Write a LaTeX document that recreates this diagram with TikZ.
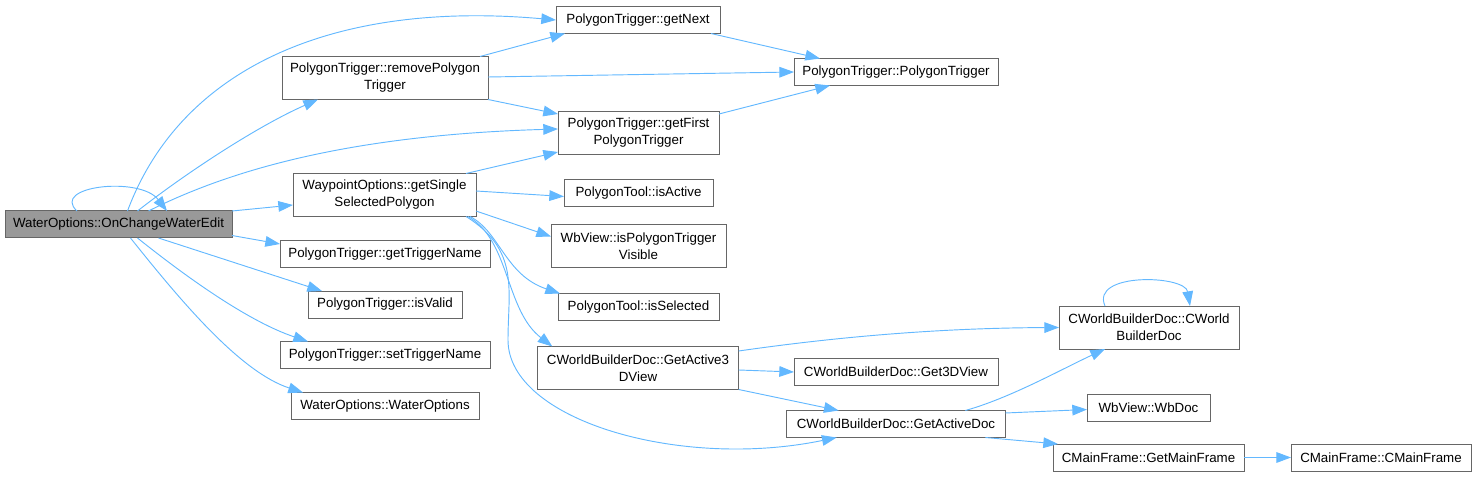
\documentclass[tikz,border=0pt]{standalone}
\usepackage{fontspec}
\setmainfont{Liberation Sans}
\usetikzlibrary{arrows.meta,calc}

\begin{document}
\begin{tikzpicture}[
    x=0.75pt, y=-0.75pt,
    >={Triangle[length=11pt,width=8pt]},
    font=\fontsize{10pt}{12.75pt}\selectfont,
    fn/.style={draw=black!60, line width=0.75pt, fill=white, outer sep=0pt, inner xsep=2pt, minimum height=20.25pt, align=center},
    fntwo/.style={fn, minimum height=32.25pt},
    rootfn/.style={fn, fill=black!40},
    call/.style={->, draw=edgeblue, line width=0.7pt}
]
    \definecolor{edgeblue}{HTML}{63B8FF}
    \useasboundingbox (0,0) rectangle (1477,477);

    % caller column
    \node[rootfn, minimum width=170.25pt] (root) at (118.5,224.5) {WaterOptions::OnChangeWaterEdit};
    \node[fntwo, minimum width=154.5pt] (rmtrig) at (385,78) {PolygonTrigger::removePolygon\\Trigger};
    \node[fntwo, minimum width=137.25pt] (single) at (384.5,195) {WaypointOptions::getSingle\\SelectedPolygon};
    \node[fn, minimum width=157.5pt] (trigname) at (385,254) {PolygonTrigger::getTriggerName};
    \node[fn, minimum width=115.5pt] (isvalid) at (385,304.5) {PolygonTrigger::isValid};
    \node[fn, minimum width=157.5pt] (settrig) at (385,355) {PolygonTrigger::setTriggerName};
    \node[fn, minimum width=141pt] (wopts) at (385,406) {WaterOptions::WaterOptions};

    % second column
    \node[fn, minimum width=123pt] (getnext) at (638,20) {PolygonTrigger::getNext};
    \node[fntwo, minimum width=120.75pt] (getfirst) at (638.5,133) {PolygonTrigger::getFirst\\PolygonTrigger};
    \node[fn, minimum width=111.75pt] (isactive) at (638.5,193.5) {PolygonTool::isActive};
    \node[fntwo, minimum width=131.25pt] (trigvis) at (638.5,246.5) {WbView::isPolygonTrigger\\Visible};
    \node[fn, minimum width=120.75pt] (issel) at (638.5,307) {PolygonTool::isSelected};
    \node[fntwo, minimum width=151pt] (act3d) at (638,368) {CWorldBuilderDoc::GetActive3\\DView};

    % third column
    \node[fn, minimum width=153pt] (ptrig) at (896,72) {PolygonTrigger::PolygonTrigger};
    \node[fn, minimum width=153pt] (get3d) at (896,372) {CWorldBuilderDoc::Get3DView};
    \node[fn, minimum width=164pt] (actdoc) at (896,424) {CWorldBuilderDoc::GetActiveDoc};

    % right side
    \node[fntwo, minimum width=135pt] (wbctor) at (1149,327.5) {CWorldBuilderDoc::CWorld\\BuilderDoc};
    \node[fn, minimum width=92.25pt] (wbdoc) at (1148.5,407.5) {WbView::WbDoc};
    \node[fn, minimum width=143.25pt] (mainfrm) at (1148.5,457.5) {CMainFrame::GetMainFrame};
    \node[fn, minimum width=135pt] (cmain) at (1381,457.5) {CMainFrame::CMainFrame};

    % calls from the root
    \draw[call] ($(root.north)+(9,0)$) .. controls (180,70) and (330,0) .. (getnext.west);
    \draw[call] ($(root.north)+(19,0)$) .. controls (190,170) and (260,125) .. ($(rmtrig.south west)+(36,0)$);
    \draw[call] ($(root.north)+(30,0)$) .. controls (230,170) and (350,135) .. ($(getfirst.west)+(0,-4)$);
    \draw[call] ($(root.north west)+(72,0)$) .. controls (50,186) and (140,176) .. ($(root.north west)+(162,0)$);
    \draw[call] (root.north east) -- ($(single.west)+(0,10)$);
    \draw[call] ($(root.east)+(0,11)$) -- ($(trigname.west)+(0,-10)$);
    \draw[call] ($(root.south)+(40,0)$) -- ($(isvalid.north west)+(14,0)$);
    \draw[call] ($(root.south)+(19,0)$) .. controls (190,280) and (250,322) .. ($(settrig.north west)+(28,0)$);
    \draw[call] ($(root.south)+(12,0)$) .. controls (180,300) and (240,372) .. ($(wopts.north west)+(12,0)$);

    \draw[call] ($(rmtrig.north east)+(-8,0)$) -- ($(getnext.south west)+(9,0)$);
    \draw[call] ($(rmtrig.east)+(0,-1)$) -- (ptrig.west);
    \draw[call] (rmtrig.south east) -- ($(getfirst.west)+(0,-19)$);
    \draw[call] ($(getnext.south east)+(-9,0)$) -- ($(ptrig.north west)+(26,0)$);
    \draw[call] ($(getfirst.east)+(0,-19)$) -- ($(ptrig.south west)+(36,0)$);

    % calls from getSingleSelectedPolygon
    \draw[call] ($(single.north east)+(-10,0)$) -- ($(getfirst.west)+(0,19)$);
    \draw[call] ($(single.east)+(0,-4)$) -- ($(isactive.west)+(0,3)$);
    \draw[call] ($(single.east)+(0,16)$) -- ($(trigvis.west)+(0,-10)$);
    \draw[call] ($(single.south east)+(-6,0)$) .. controls (500,232) and (505,275) .. ($(issel.north west)+(2,0)$);
    \draw[call] ($(single.south east)+(-8,0)$) .. controls (510,240) and (505,310) .. ($(act3d.north west)+(15,0)$);
    \draw[call] ($(single.south east)+(-10,0)$) .. controls (520,250) and (508,290) .. (508,340)
        .. controls (508,420) and (680,470) .. ($(actdoc.south west)+(50,0)$);

    \draw[call] ($(act3d.east)+(0,-17)$) .. controls (850,335) and (950,328) .. (wbctor.west);
    \draw[call] ($(act3d.east)+(0,2)$) -- (get3d.west);
    \draw[call] (act3d.south east) -- ($(actdoc.north west)+(52,0)$);

    \draw[call] ($(actdoc.north east)+(-40,0)$) .. controls (1010,398) and (1060,370) .. ($(wbctor.south west)+(46,0)$);
    \draw[call] ($(actdoc.east)+(0,-11)$) -- ($(wbdoc.west)+(0,2)$);
    \draw[call] ($(actdoc.south east)+(-20,0)$) -- ($(mainfrm.north west)+(5,0)$);
    \draw[call] ($(wbctor.north west)+(46,0)$) .. controls (1090,272) and (1185,275) .. ($(wbctor.north west)+(131,0)$);
    \draw[call] (mainfrm.east) -- (cmain.west);
\end{tikzpicture}
\end{document}
